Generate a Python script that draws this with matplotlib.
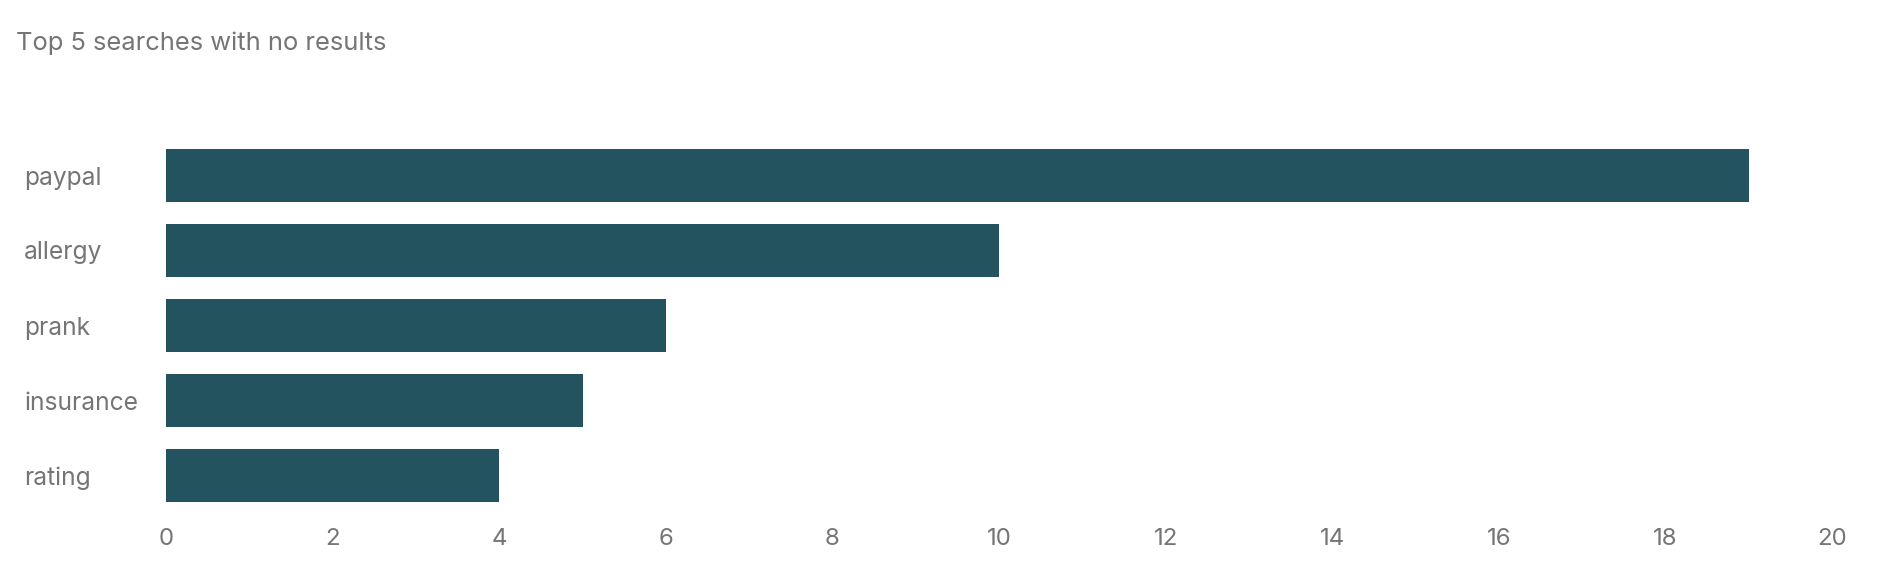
import matplotlib
matplotlib.use("Agg")
import matplotlib.pyplot as plt

categories = ["paypal", "allergy", "prank", "insurance", "rating"]
values = [19, 10, 6, 5, 4]
x_ticks = [0, 2, 4, 6, 8, 10, 12, 14, 16, 18, 20]
title = "Top 5 searches with no results"

BAR = "#23535F"
TXT = "#757575"
plt.rcParams['font.family'] = ['Inter', 'DejaVu Sans']

W, H = 1886, 570
fig = plt.figure(figsize=(W / 100, H / 100), dpi=100)
ax = fig.add_axes([166 / W, 1 - 513 / H, (1832 - 166) / W, (513 - 138) / H])

ax.barh(range(len(categories)), values, height=0.70, color=BAR)
ax.set_xlim(0, 20)
ax.set_ylim(len(categories) - 0.5, -0.5)
ax.set_xticks(x_ticks)
ax.set_xticklabels([str(t) for t in x_ticks])
ax.set_yticks(range(len(categories)))
ax.set_yticklabels(categories)
for s in ax.spines.values():
    s.set_visible(False)
ax.tick_params(axis='x', length=0, pad=11, labelsize=17.3, labelcolor=TXT)
ax.tick_params(axis='y', length=0, pad=(166 - 24) * 0.72, labelsize=17.7, labelcolor=TXT)
for lab in ax.get_yticklabels():
    lab.set_horizontalalignment('left')

fig.text(16 / W, 1 - 50 / H, title, fontsize=18.4, color=TXT, ha='left', va='baseline')

fig.savefig("out.png", dpi=100, facecolor="white")
